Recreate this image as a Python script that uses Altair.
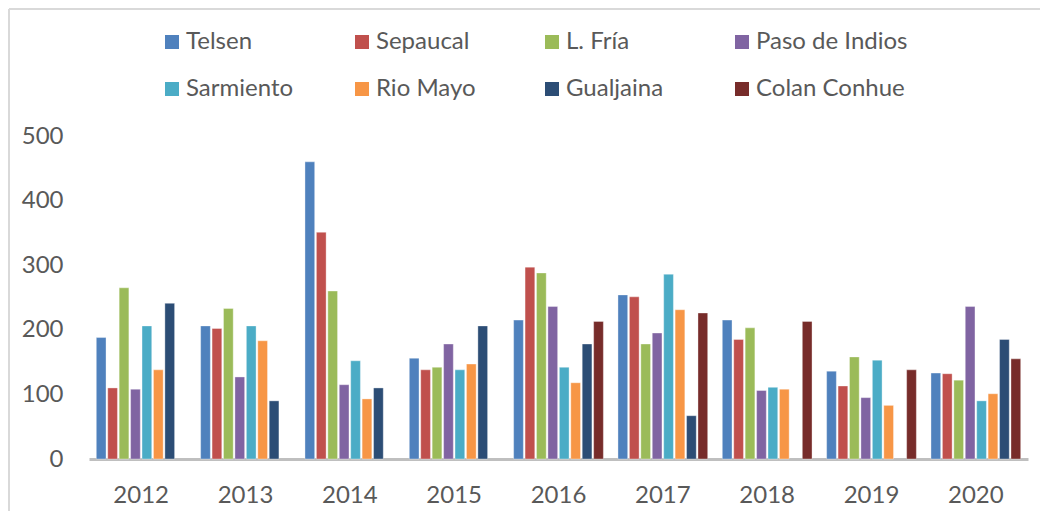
import altair as alt
import pandas as pd

years = ["2012", "2013", "2014", "2015", "2016", "2017", "2018", "2019", "2020"]
series = ["Telsen", "Sepaucal", "L. Fría", "Paso de Indios",
          "Sarmiento", "Rio Mayo", "Gualjaina", "Colan Conhue"]
colors = ["#4F81BD", "#C0504D", "#9BBB59", "#8064A2",
          "#4BACC6", "#F79646", "#2C4D75", "#772C2A"]

telsen = [188, 206, 460, 156, 215, 254, 215, 136, 133]
sepaucal = [110, 202, 351, 138, 297, 251, 185, 113, 132]
l_fria = [265, 233, 260, 142, 288, 178, 203, 158, 122]
paso = [108, 127, 115, 178, 236, 195, 106, 95, 236]
sarmiento = [206, 206, 152, 138, 142, 286, 111, 153, 90]
rio_mayo = [138, 183, 93, 147, 118, 231, 108, 83, 101]
gualjaina = [241, 90, 110, 206, 178, 67, None, None, 185]
colan = [None, None, None, None, 213, 226, 213, 138, 155]

values = [telsen, sepaucal, l_fria, paso, sarmiento, rio_mayo, gualjaina, colan]

rows = []
for s, vals in zip(series, values):
    for y, v in zip(years, vals):
        if v is not None:
            rows.append({"Año": y, "Serie": s, "Valor": v})
df = pd.DataFrame(rows)

FONT = "Lato"
TXT = "#595959"

bars = alt.Chart(df).mark_bar(stroke="white", strokeOpacity=0.35, strokeWidth=1).encode(
    x=alt.X("Año:N", sort=years, title=None,
            scale=alt.Scale(paddingInner=0.14, paddingOuter=0.07),
            axis=alt.Axis(labelAngle=0, ticks=False, domainColor="#BFBFBF",
                          domainWidth=3, labelPadding=24, labelFontSize=24,
                          labelColor=TXT, labelFont=FONT, grid=False)),
    xOffset=alt.XOffset("Serie:N", sort=series,
                        scale=alt.Scale(paddingInner=0.15)),
    y=alt.Y("Valor:Q", title=None,
            scale=alt.Scale(domain=[0, 500], nice=False),
            axis=alt.Axis(values=[0, 100, 200, 300, 400, 500], domain=False,
                          ticks=False, grid=False, labelPadding=26,
                          labelFontSize=24, labelColor=TXT, labelFont=FONT)),
    color=alt.Color("Serie:N", sort=series, title=None,
                    scale=alt.Scale(domain=series, range=colors),
                    legend=alt.Legend(orient="none", legendX=71, legendY=-106,
                                      direction="horizontal",
                                      columns=4, gridAlign="all",
                                      columnPadding=12, rowPadding=23,
                                      symbolType="square", symbolSize=196,
                                      symbolStrokeWidth=0, labelOffset=2,
                                      labelFontSize=24, labelColor=TXT,
                                      labelFont=FONT)),
)

frame_top = alt.Chart(df).mark_rule(color="#D9D9D9", strokeWidth=2).encode(
    x=alt.value(-80), x2=alt.value(960), y=alt.value(-127))
frame_left = alt.Chart(df).mark_rule(color="#D9D9D9", strokeWidth=2).encode(
    x=alt.value(-80), y=alt.value(-127), y2=alt.value(380))

chart = alt.layer(bars, frame_top, frame_left).properties(
    width=939, height=323,
    autosize=alt.AutoSizeParams(type="none"),
    padding={"left": 81, "top": 128, "right": 12, "bottom": 52},
).configure(font=FONT).configure_view(strokeWidth=0, stroke="transparent")

chart.save("out.html", embed_options={"renderer": "svg", "actions": False})
